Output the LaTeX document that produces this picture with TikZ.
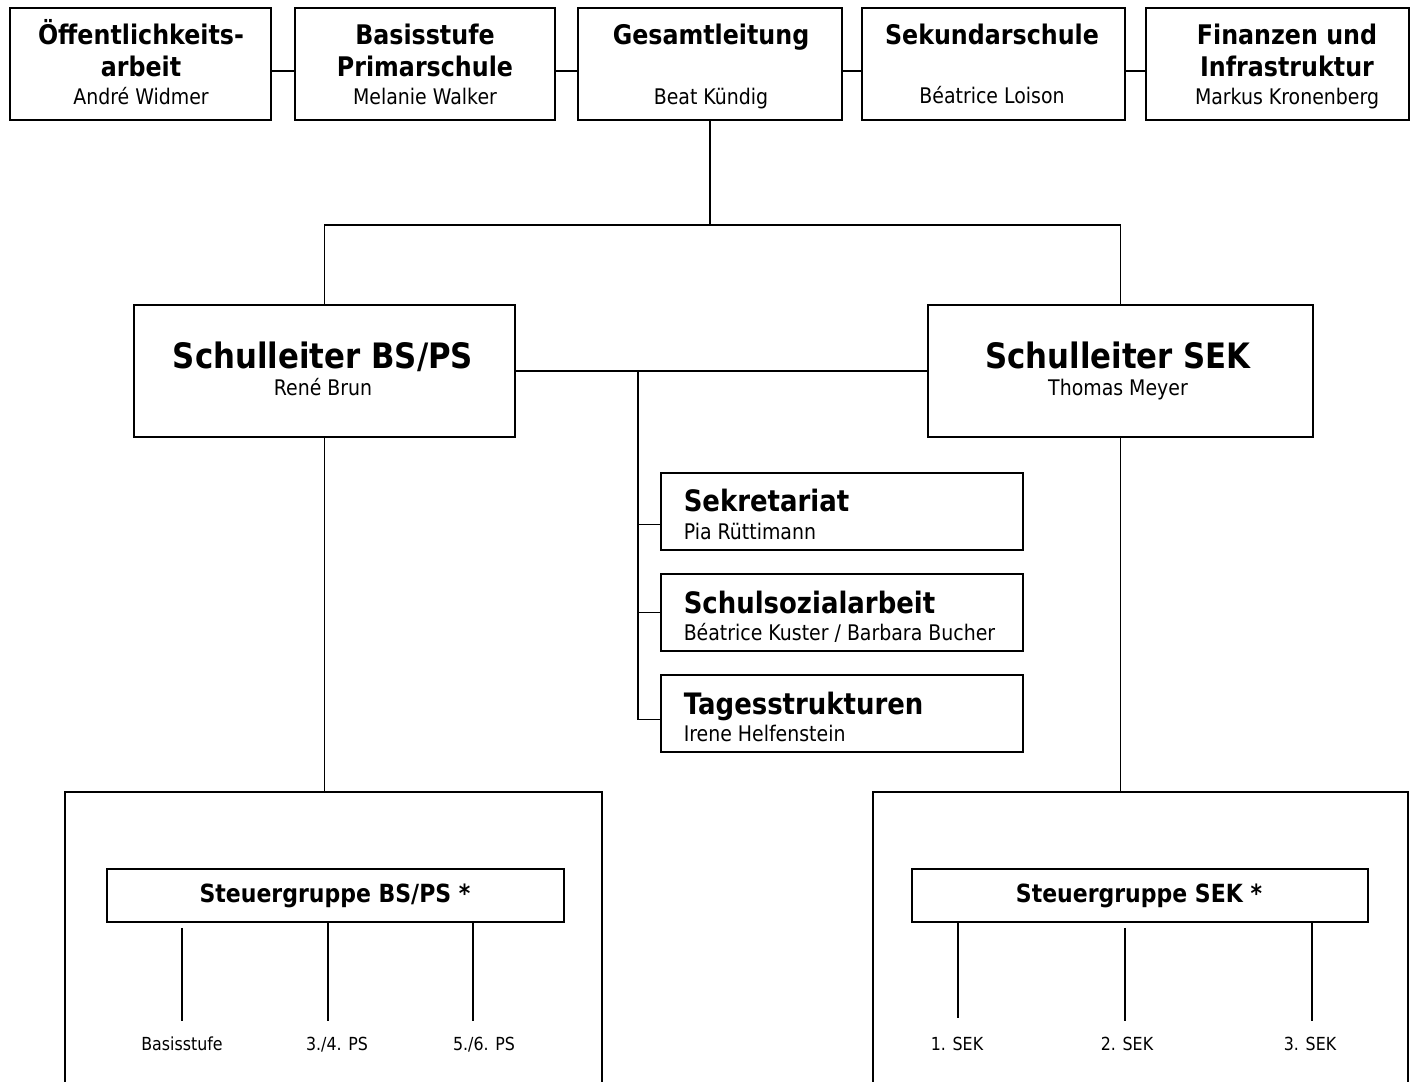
\documentclass[tikz,border=0pt]{standalone}
\usepackage{fontspec}
\setmainfont{DejaVu Sans}[FakeStretch=0.88]
\newcommand{\fsz}[1]{\fontsize{#1}{#1}\selectfont}
\tikzset{
  box/.style 2 args={draw,minimum width=#1,minimum height=#2,inner sep=0pt},
  ttl/.style={anchor=base,inner sep=0pt,font=\bfseries\fsz{27}},
  nm/.style={anchor=base,inner sep=0pt,font=\fsz{21.5}},
  big/.style={anchor=base,inner sep=0pt,font=\bfseries\fsz{35}},
  midttl/.style={anchor=base west,inner sep=0pt,font=\bfseries\fsz{29.5}},
  midnm/.style={anchor=base west,inner sep=0pt,font=\fsz{21.5}},
  sgttl/.style={anchor=base,inner sep=0pt,font=\bfseries\fsz{25}},
  lbl/.style={anchor=base,inner sep=0pt,font=\fsz{18}}
}
\begin{document}
\begin{tikzpicture}[x=1pt,y=-1pt,line width=1.5pt]
    \useasboundingbox[fill=white] (0,0) rectangle (1410,1081);
    % top row
    \node[box={261}{112}] (oeff) at (140.5,64) {};
    \node[box={260}{112}] (basis) at (425,64) {};
    \node[box={264}{112}] (gesamt) at (710,64) {};
    \node[box={263}{112}] (sek) at (993.5,64) {};
    \node[box={263}{112}] (fin) at (1277.5,64) {};
    \foreach \a/\b in {oeff/basis,basis/gesamt,gesamt/sek,sek/fin}
        \draw ([yshift=-7pt]\a.east) -- ([yshift=-7pt]\b.west);
    \node[ttl] (oeffA) at (141,45) {Öffentlichkeits-};
    \node[ttl] (oeffB) at (141,77) {arbeit};
    \node[nm] (oeffN) at (141,104) {André Widmer};
    \node[ttl] (basisA) at (425,45) {Basisstufe};
    \node[ttl] (basisB) at (425,77) {Primarschule};
    \node[nm] (basisN) at (425,104) {Melanie Walker};
    \node[ttl] (gesamtA) at (711,45) {Gesamtleitung};
    \node[nm] (gesamtN) at (711,104) {Beat Kündig};
    \node[ttl] (sekA) at (992,45) {Sekundarschule};
    \node[nm] (sekN) at (992,103) {Béatrice Loison};
    \node[ttl] (finA) at (1287,45) {Finanzen und};
    \node[ttl] (finB) at (1287,77) {Infrastruktur};
    \node[nm] (finN) at (1287,104) {Markus Kronenberg};
    % Schulleitungen
    \node[box={381}{132}] (slbs) at (324.5,371) {};
    \node[box={385}{132}] (slsek) at (1120.5,371) {};
    \node[big] (slbsA) at (323,368) {Schulleiter BS/PS};
    \node[nm] (slbsN) at (323,395) {René Brun};
    \node[big] (slsekA) at (1118,368) {Schulleiter SEK};
    \node[nm] (slsekN) at (1118,395) {Thomas Meyer};
    \coordinate (top) at (710,225);
    \draw (gesamt.south) -- (top);
    \draw (slbs.north) |- (top) -| (slsek.north);
    \draw (slbs) -- (slsek);
    % Dienste
    \node[box={362}{77}] (sekr) at (842,511.5) {};
    \node[box={362}{77}] (sozi) at (842,612.5) {};
    \node[box={362}{77}] (tages) at (842,713.5) {};
    \node[midttl] (sekrA) at (683,511) {Sekretariat};
    \node[midnm] (sekrN) at (683,539) {Pia Rüttimann};
    \node[midttl] (soziA) at (683,613) {Schulsozialarbeit};
    \node[midnm] (soziN) at (683,640) {Béatrice Kuster / Barbara Bucher};
    \node[midttl] (tagesA) at (683,714) {Tagesstrukturen};
    \node[midnm] (tagesN) at (683,741) {Irene Helfenstein};
    \coordinate (mid) at (638,371);
    \draw (mid) |- ([yshift=-6pt]tages.west);
    \draw ([yshift=-13pt]sekr.west) -- ([yshift=-13pt]sekr.west -| mid);
    \draw (sozi.west) -- (sozi.west -| mid);
    % Stufen
    \node[box={537}{320}] (grpbs) at (333.5,952) {};
    \node[box={535}{320}] (grpsek) at (1140.5,952) {};
    \draw (slbs.south) -- (slbs.south |- grpbs.north);
    \draw (slsek.south) -- (slsek.south |- grpsek.north);
    \node[box={457}{53}] (sgbs) at (335.5,895.5) {};
    \node[box={456}{53}] (sgsek) at (1140,895.5) {};
    \node[sgttl] (sgbsA) at (335,902) {Steuergruppe BS/PS *};
    \node[sgttl] (sgsekA) at (1139,902) {Steuergruppe SEK *};
    \node[lbl] (bs) at (182,1050) {Basisstufe};
    \node[lbl] (ps34) at (337,1050) {3./4. PS};
    \node[lbl] (ps56) at (484,1050) {5./6. PS};
    \node[lbl] (sk1) at (957,1050) {1. SEK};
    \node[lbl] (sk2) at (1127,1050) {2. SEK};
    \node[lbl] (sk3) at (1310,1050) {3. SEK};
    \coordinate (bst) at (182,1021);
    \coordinate (ps34t) at (328,1021);
    \coordinate (ps56t) at (473,1021);
    \coordinate (sk1t) at (958,1018);
    \coordinate (sk2t) at (1125,1021);
    \coordinate (sk3t) at (1312,1021);
    \draw (sgbs.south -| bst) ++(0,5) -- (bst);
    \draw (sgbs.south -| ps34t) -- (ps34t);
    \draw (sgbs.south -| ps56t) -- (ps56t);
    \draw (sgsek.south -| sk1t) -- (sk1t);
    \draw (sgsek.south -| sk2t) ++(0,5) -- (sk2t);
    \draw (sgsek.south -| sk3t) -- (sk3t);
\end{tikzpicture}
\end{document}
